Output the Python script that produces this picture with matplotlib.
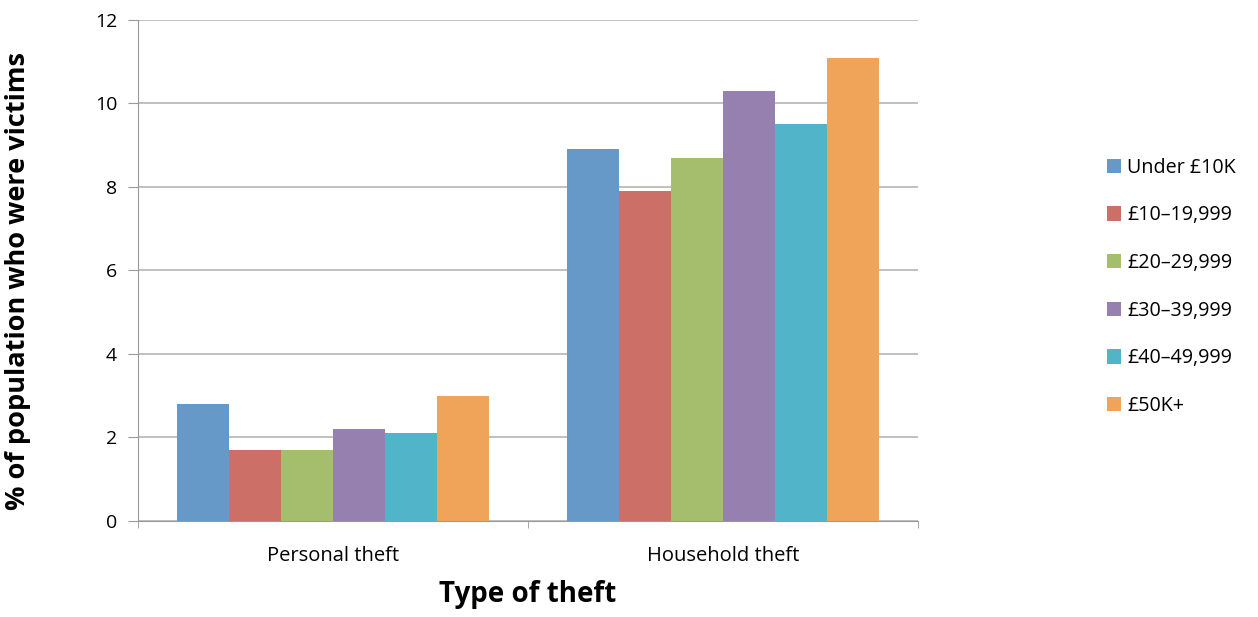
import matplotlib.pyplot as plt
import numpy as np

plt.rcParams['font.family'] = ['Open Sans', 'DejaVu Sans']

# --- Data ---
categories = ['Personal theft', 'Household theft']
income_groups = ['Under £10K', '£10–19,999', '£20–29,999', '£30–39,999', '£40–49,999', '£50K+']
personal = [2.8, 1.7, 1.7, 2.2, 2.1, 3.0]
household = [8.9, 7.9, 8.7, 10.3, 9.5, 11.1]
colors = ['#6699C8', '#CC6F66', '#A5BE6E', '#9580B0', '#52B4C8', '#F0A45A']

fig = plt.figure(figsize=(12.58, 6.17), dpi=100)
ax = fig.add_axes([0.1097, 0.1556, 0.62, 0.812])

x = np.arange(len(categories))
group_w = 0.8
bar_w = group_w / len(income_groups)
for i, name in enumerate(income_groups):
    vals = [personal[i], household[i]]
    ax.bar(x - group_w / 2 + bar_w * (i + 0.5), vals, width=bar_w,
           color=colors[i], label=name, zorder=3)

ax.set_xlim(-0.5, 1.5)
ax.set_ylim(0, 12)
ax.set_yticks(range(0, 13, 2))
ax.yaxis.grid(True, color='#b5b5b5', linewidth=1.2, zorder=0)
ax.set_xticks(x)
ax.set_xticklabels(categories, fontsize=14.5)
ax.set_xticks([-0.5, 0.5, 1.5], minor=True)
ax.tick_params(axis='x', which='major', length=0, pad=18)
ax.tick_params(axis='x', which='minor', length=5, color='#999999')
ax.tick_params(axis='y', length=7, color='#999999', labelsize=14, pad=8)

for side in ['top', 'right']:
    ax.spines[side].set_visible(False)
ax.spines['left'].set_color('#999999')
ax.spines['bottom'].set_color('#999999')

ax.set_xlabel('Type of theft', fontsize=20, fontweight='bold', labelpad=10)
fig.text(0.014, 0.545, '% of population who were victims', rotation=90,
         fontsize=19.5, fontweight='bold', ha='center', va='center')

fig.legend(loc='center left', bbox_to_anchor=(0.8655, 0.535), frameon=False,
           fontsize=14.2, handlelength=0.75, handleheight=0.75, handletextpad=0.3,
           labelspacing=1.4)

fig.savefig('out.png', dpi=100)
